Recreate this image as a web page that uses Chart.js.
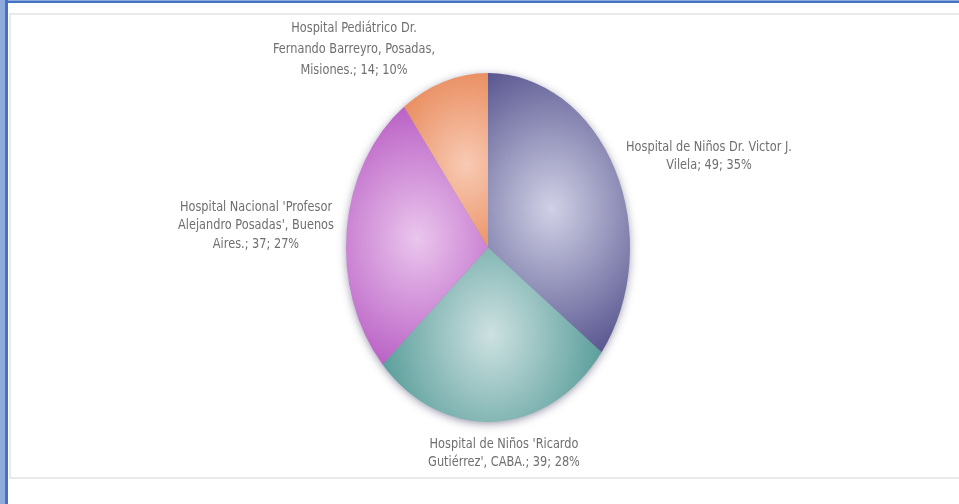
<!DOCTYPE html>
<html>
<head>
<meta charset="utf-8">
<script src="https://cdn.jsdelivr.net/npm/chart.js@4.4.1/dist/chart.umd.min.js"></script>
<style>
  html, body { margin: 0; padding: 0; background: #ffffff; }
  #wrap { position: relative; width: 959px; height: 504px; overflow: hidden; background: #fff; }
  .f { position: absolute; }
  canvas { position: absolute; left: 0; top: 0; }
</style>
</head>
<body>
<div id="wrap">
  <div class="f" style="left:0;top:0;width:959px;height:3px;background:#4472c4;"></div>
  <div class="f" style="left:0;top:0;width:959px;height:1px;background:#8eaadb;"></div>
  <div class="f" style="left:0;top:0;width:8px;height:504px;background:#4472c4;"></div>
  <div class="f" style="left:0;top:0;width:5px;height:504px;background:#8eaadb;"></div>
  <div class="f" style="left:9px;top:13px;width:960px;height:462px;border:2px solid #e9e9e9;border-right:none;"></div>
  <canvas id="c" width="959" height="504"></canvas>
</div>
<script>
// ---- data ----
const categories = [
  "Hospital de Niños Dr. Victor J. Vilela",
  "Hospital de Niños 'Ricardo Gutiérrez', CABA.",
  "Hospital Nacional 'Profesor Alejandro Posadas', Buenos Aires.",
  "Hospital Pediátrico Dr. Fernando Barreyro, Posadas, Misiones."
];
const values = [49, 39, 37, 14];
// how each category name wraps in the data label
const labelLines = [
  ["Hospital de Niños Dr. Victor J.", "Vilela"],
  ["Hospital de Niños 'Ricardo", "Gutiérrez', CABA."],
  ["Hospital Nacional 'Profesor", "Alejandro Posadas', Buenos", "Aires."],
  ["Hospital Pediátrico Dr.", "Fernando Barreyro, Posadas,", "Misiones."]
];
const edgeColors = ["#58558f", "#4a9591", "#b24fbe", "#e0682b"];
const lightColors = ["#d0d1e6", "#cde1e1", "#eac6ed", "#f8cab4"];

// ---- layout (not data) ----
const labelPos = [
  { x: 709, y: 147, lh: 18 },
  { x: 504, y: 444, lh: 18 },
  { x: 256, y: 207, lh: 18.5 },
  { x: 354, y: 28, lh: 21 }
];
const STRETCH_Y = 1.229;

const total = values.reduce((a, b) => a + b, 0);

function sliceGradient(ctx) {
  const chart = ctx.chart;
  const area = chart.chartArea;
  const i = ctx.dataIndex;
  if (!area || i === undefined) return edgeColors[i || 0];
  const cx = (area.left + area.right) / 2;
  const cy = (area.top + area.bottom) / 2;
  const r = Math.min(area.right - area.left, area.bottom - area.top) / 2;
  let before = 0;
  for (let k = 0; k < i; k++) before += values[k];
  const mid = (before + values[i] / 2) / total * Math.PI * 2 - Math.PI / 2;
  const hx = cx + Math.cos(mid) * r * 0.5;
  const hy = cy + Math.sin(mid) * r * 0.5;
  const g = chart.ctx.createRadialGradient(hx, hy, 0, hx, hy, r * 0.9);
  g.addColorStop(0, lightColors[i]);
  g.addColorStop(1, edgeColors[i]);
  return g;
}

const stretchPlugin = {
  id: 'stretch',
  beforeDatasetsDraw(chart) {
    const el = chart.getDatasetMeta(0).data[0];
    const cx = el.x, cy = el.y, r = el.outerRadius;
    const ctx = chart.ctx;
    ctx.save();
    ctx.shadowColor = 'rgba(40,40,80,0.55)';
    ctx.shadowBlur = 10;
    ctx.shadowOffsetX = 0;
    ctx.shadowOffsetY = 2;
    ctx.fillStyle = '#8a8aa8';
    ctx.beginPath();
    ctx.ellipse(cx, cy, r - 1, r * STRETCH_Y - 1, 0, 0, Math.PI * 2);
    ctx.fill();
    ctx.restore();
    ctx.save();
    ctx.translate(cx, cy);
    ctx.scale(1, STRETCH_Y);
    ctx.translate(-cx, -cy);
  },
  afterDatasetsDraw(chart) {
    chart.ctx.restore();
  },
  afterDraw(chart) {
    const ctx = chart.ctx;
    ctx.save();
    ctx.font = '14px "DejaVu Sans", sans-serif';
    if ('fontStretch' in ctx) ctx.fontStretch = 'condensed';
    ctx.fillStyle = '#6f6f6f';
    ctx.textAlign = 'center';
    ctx.textBaseline = 'middle';
    // narrow the face to match the condensed look of the original
    const sx = 162 / ctx.measureText("Fernando Barreyro, Posadas,").width;
    values.forEach((v, i) => {
      const pct = Math.round(v / total * 100);
      const lines = labelLines[i].slice();
      lines[lines.length - 1] += '; ' + v + '; ' + pct + '%';
      const p = labelPos[i];
      lines.forEach((t, j) => {
        ctx.save();
        ctx.translate(p.x, p.y + j * p.lh);
        ctx.scale(sx, 1);
        ctx.fillText(t, 0, 0);
        ctx.restore();
      });
    });
    ctx.restore();
  }
};

new Chart(document.getElementById('c'), {
  type: 'pie',
  data: {
    labels: categories,
    datasets: [{
      data: values,
      backgroundColor: sliceGradient,
      borderWidth: 0,
      clip: false
    }]
  },
  options: {
    responsive: false,
    animation: false,
    devicePixelRatio: 1,
    layout: { padding: { left: 346, right: 329, top: 105.5, bottom: 114.5 } },
    plugins: {
      legend: { display: false },
      tooltip: { enabled: false },
      title: { display: false }
    },
    events: []
  },
  plugins: [stretchPlugin]
});
</script>
</body>
</html>
